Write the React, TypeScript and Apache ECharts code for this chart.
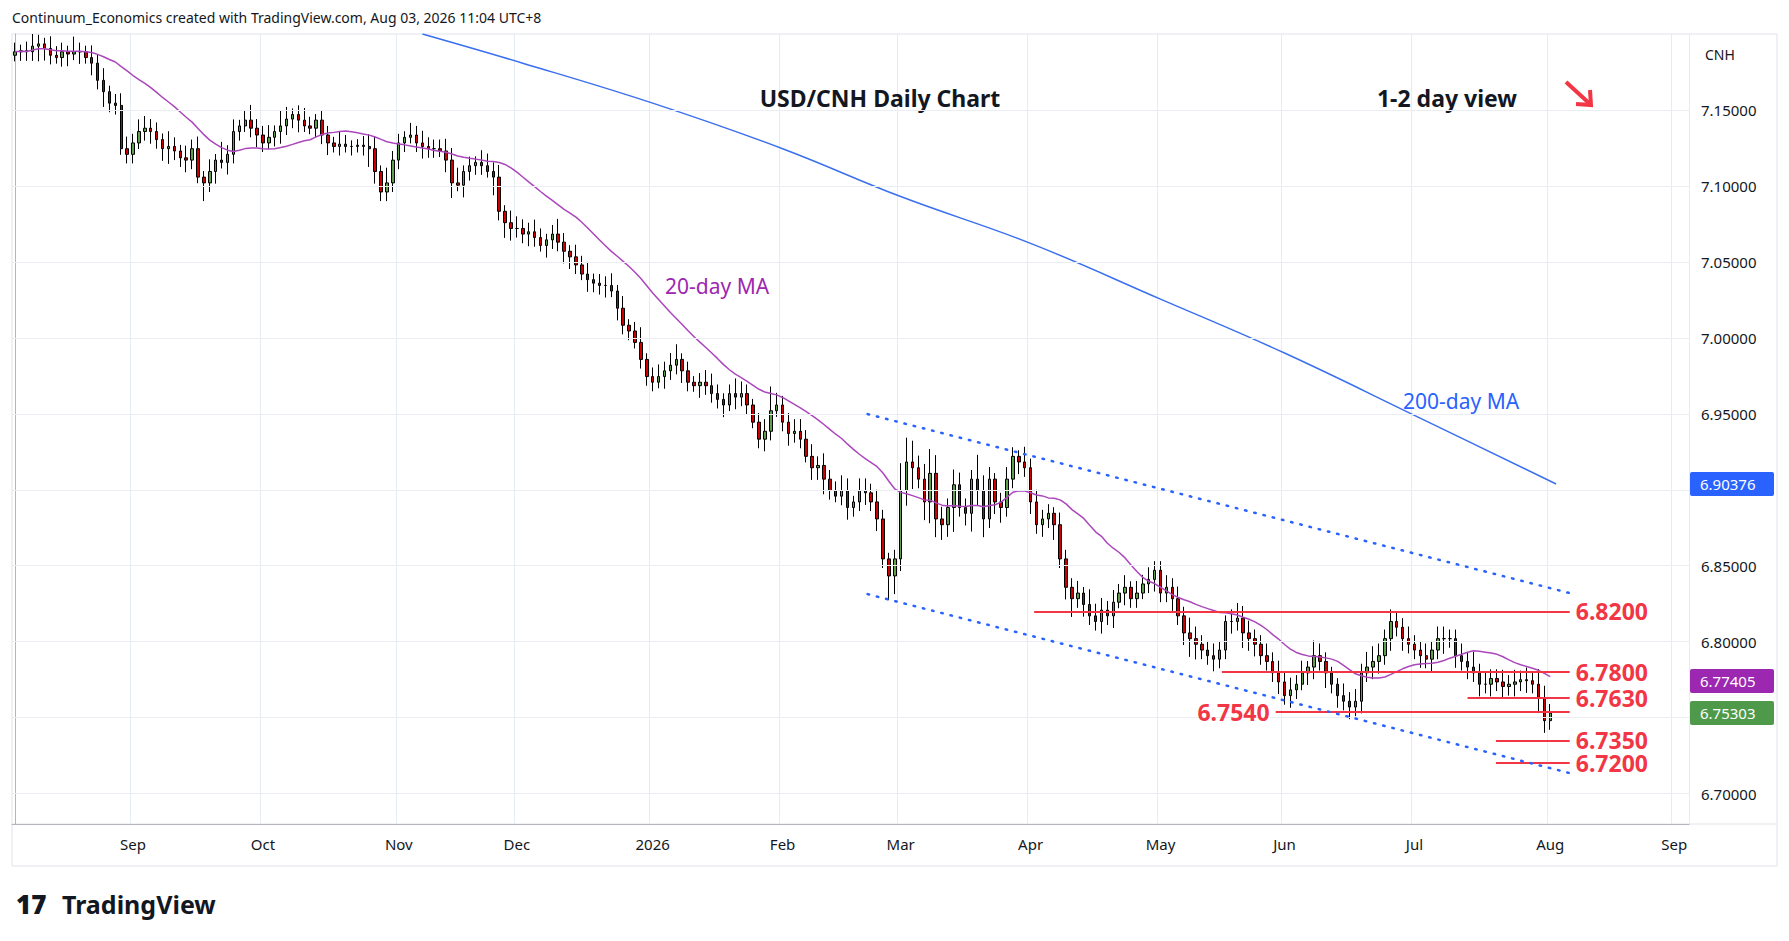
import React, { useEffect, useRef } from 'react';
import * as echarts from 'echarts';

// daily closes by month (weekdays), Aug 2025 .. Aug 3 2026
const closeAug25 = [7.1883, 7.189, 7.1883, 7.192, 7.1935, 7.1905, 7.186, 7.1845, 7.1883, 7.1868, 7.1883, 7.1883, 7.1845, 7.1808, 7.1695, 7.162, 7.1545, 7.153, 7.1245, 7.1208];
const closeSep = [7.1283, 7.1358, 7.138, 7.1358, 7.1305, 7.1245, 7.126, 7.123, 7.1185, 7.117, 7.1245, 7.1058, 7.102, 7.1095, 7.117, 7.1155, 7.1208, 7.1358, 7.1395, 7.1433, 7.138, 7.1335];
const closeOct = [7.1283, 7.132, 7.1358, 7.1395, 7.144, 7.147, 7.1433, 7.1395, 7.138, 7.1433, 7.1335, 7.1283, 7.126, 7.1275, 7.126, 7.126, 7.1268, 7.126, 7.1245, 7.1095, 7.096, 7.102, 7.117];
const closeNov = [7.1283, 7.132, 7.1335, 7.1283, 7.126, 7.1245, 7.1245, 7.123, 7.117, 7.102, 7.1005, 7.1095, 7.1133, 7.1155, 7.1133, 7.1095, 7.1058, 7.0833, 7.0758, 7.072];
const closeDec = [7.072, 7.0683, 7.0698, 7.066, 7.0608, 7.0645, 7.0683, 7.063, 7.057, 7.0533, 7.048, 7.042, 7.0383, 7.036, 7.0345, 7.0345, 7.0308, 7.0195, 7.0083, 7.0045, 6.997, 6.9858, 6.9745];
const closeJan = [6.9708, 6.9745, 6.9783, 6.982, 6.9858, 6.9783, 6.9708, 6.9685, 6.9708, 6.9685, 6.9633, 6.9595, 6.9558, 6.9633, 6.961, 6.9633, 6.9558, 6.9445, 6.9333, 6.9385, 6.952, 6.9558];
const closeFeb = [6.9445, 6.937, 6.9385, 6.9333, 6.922, 6.9145, 6.916, 6.907, 6.8995, 6.8958, 6.8995, 6.8883, 6.892, 6.8995, 6.898, 6.892, 6.8808, 6.8545, 6.8433, 6.8545];
const closeMar = [6.8995, 6.9183, 6.9145, 6.907, 6.892, 6.9108, 6.8808, 6.877, 6.8883, 6.9033, 6.8883, 6.8845, 6.907, 6.8995, 6.8808, 6.907, 6.892, 6.8883, 6.907, 6.922, 6.9183, 6.9145];
const closeApr = [6.892, 6.877, 6.8808, 6.8845, 6.877, 6.8545, 6.8358, 6.8283, 6.832, 6.8245, 6.817, 6.8133, 6.8208, 6.817, 6.826, 6.832, 6.8358, 6.8283, 6.832, 6.838, 6.841, 6.847];
const closeMay = [6.832, 6.8358, 6.8283, 6.817, 6.8058, 6.802, 6.7983, 6.7945, 6.7908, 6.7885, 6.7945, 6.8133, 6.8133, 6.8155, 6.8058, 6.802, 6.7983, 6.7908, 6.787, 6.7795, 6.7735];
const closeJun = [6.7645, 6.7683, 6.772, 6.7795, 6.7833, 6.7908, 6.787, 6.7795, 6.772, 6.7645, 6.7608, 6.757, 6.7608, 6.7795, 6.7833, 6.787, 6.7908, 6.802, 6.8133, 6.8095, 6.802, 6.7983];
const closeJul = [6.7945, 6.7908, 6.7885, 6.7945, 6.802, 6.802, 6.802, 6.7908, 6.787, 6.7833, 6.7795, 6.772, 6.772, 6.7758, 6.7735, 6.7705, 6.772, 6.7735, 6.775, 6.7743, 6.772, 6.763, 6.748];
const closeAug26 = [6.753];
const firstOpen = 7.186;

// wick lengths in units of 0.002, one digit per day
const upperWicks = [
  '32343243325324342344', '3443325324342426342353', '34254234323324322344253', '32434333445232443424',
  '43343235324342334242352', '3434523234432354323484', '33443434335424434323', '9874586435433854234325',
  '3433243342544343424343', '343435433432454433434', '3434254322434355434334', '33434433435343343434354', '3',
].join('');
const lowerWicks = [
  '23335432342424353323', '3234345334326342433234', '32343342233423232364333', '33234332452433326354',
  '33432433443243342433233', '3243343243334243323432', '34332445323433434386', '4573676548346563453343',
  '4343534634334342433234', '334346533433435443334', '3432443534343434434343', '34343534343434343434354', '3',
].join('');

// 200-day MA, [bar index, value]
const ma200Points = [[69, 7.2], [86, 7.1808], [108, 7.1545], [130, 7.1245], [150, 7.093], [172, 7.0622], [194, 7.0255], [215, 6.99], [237, 6.949], [261, 6.9038]];

// levels: [value, from index, to index, label side]
const levels: [number, number, number, string][] = [
  [6.82, 172.6, 263.3, 'end'], [6.78, 204.4, 263.3, 'end'], [6.763, 246, 263.3, 'end'],
  [6.754, 213.5, 263.3, 'start'], [6.735, 250.8, 263.3, 'end'], [6.72, 250.8, 263.3, 'end'],
];
const channelUpper = [[144.4, 6.9498], [263.3, 6.832]];
const channelLower = [[144.4, 6.8313], [263.3, 6.7135]];
const gridValues = [6.7, 6.75, 6.8, 6.85, 6.9, 6.95, 7.0, 7.05, 7.1, 7.15];
const hiddenTicks = ['6.90000', '6.75000'];
const priceTags = [
  { v: 6.90376, text: '6.90376', color: '#2962ff' },
  { v: 6.77405, text: '6.77405', color: '#9c27b0' },
  { v: 6.75303, text: '6.75303', color: '#4f9a4a' },
];
const monthNames = ['Jan', 'Feb', 'Mar', 'Apr', 'May', 'Jun', 'Jul', 'Aug', 'Sep', 'Oct', 'Nov', 'Dec'];

const closes = [
  ...closeAug25, ...closeSep, ...closeOct, ...closeNov, ...closeDec, ...closeJan,
  ...closeFeb, ...closeMar, ...closeApr, ...closeMay, ...closeJun, ...closeJul, ...closeAug26,
];

const TOTAL = 284;
const dates: string[] = [];
const labelMap: Record<number, string> = {};
{
  const d = new Date(Date.UTC(2025, 7, 4));
  let lastMonth = 7;
  while (dates.length < TOTAL) {
    const wd = d.getUTCDay();
    if (wd !== 0 && wd !== 6) {
      const m = d.getUTCMonth();
      if (m !== lastMonth) {
        labelMap[dates.length] = m === 0 ? String(d.getUTCFullYear()) : monthNames[m];
        lastMonth = m;
      }
      dates.push(d.toISOString().slice(0, 10));
    }
    d.setUTCDate(d.getUTCDate() + 1);
  }
}

const FONT = '"Noto Sans", Roboto, sans-serif';
const RED = '#f23645';

const App: React.FC = () => {
  const ref = useRef<HTMLDivElement | null>(null);

  useEffect(() => {
    document.body.style.margin = '0';
    if (!ref.current) return;
    const chart = echarts.init(ref.current, undefined, { renderer: 'svg' });

    const candles = closes.map((c, i) => {
      const o = i === 0 ? firstOpen : closes[i - 1];
      const hi = Math.max(o, c) + Number(upperWicks[i]) * 0.002;
      const lo = Math.min(o, c) - Number(lowerWicks[i]) * 0.002;
      return [o, c, lo, hi];
    });
    const ma20 = closes.map((_, i) => {
      const s = closes.slice(Math.max(0, i - 19), i + 1);
      return s.reduce((a, b) => a + b, 0) / s.length;
    });

    const base: any = {
      animation: false,
      backgroundColor: '#ffffff',
      textStyle: { fontFamily: FONT },
      grid: { left: 12, right: 100, top: 34, bottom: 117 },
      xAxis: [
        {
          type: 'category',
          data: dates,
          boundaryGap: true,
          axisLine: { show: true, lineStyle: { color: '#b2b5be' } },
          axisTick: { show: false },
          axisLabel: {
            interval: (i: number) => labelMap[i] !== undefined,
            formatter: (_: string, i: number) => labelMap[i] || '',
            color: '#131722',
            fontSize: 15,
            fontFamily: FONT,
            margin: 12,
          },
          splitLine: { show: true, interval: (i: number) => labelMap[i] !== undefined, lineStyle: { color: '#e6ecf2' } },
        },
        { type: 'value', min: -0.5, max: TOTAL - 0.5, show: false },
      ],
      yAxis: {
        type: 'value',
        position: 'right',
        min: 6.68,
        max: 7.2,
        interval: 0.01,
        axisLine: { show: true, lineStyle: { color: '#b2b5be' } },
        axisTick: { show: false },
        splitLine: { show: false },
        axisLabel: {
          color: '#131722',
          fontSize: 15,
          fontFamily: FONT,
          margin: 12,
          formatter: (v: number) => {
            const s = v.toFixed(5);
            return Math.abs(v * 20 - Math.round(v * 20)) < 1e-6 && v < 7.19 && !hiddenTicks.includes(s) ? s : '';
          },
        },
      },
      series: [
        {
          type: 'candlestick',
          data: candles,
          barMaxWidth: 6,
          itemStyle: { color: '#5f9e4a', color0: '#cc0000', borderColor: '#000000', borderColor0: '#000000', borderWidth: 1 },
          markLine: {
            silent: true,
            symbol: 'none',
            label: { show: false },
            lineStyle: { color: '#eaeef3', type: 'solid', width: 1 },
            data: gridValues.map((v) => ({ yAxis: v })),
          },
          z: 3,
        },
        {
          type: 'line',
          data: ma20,
          showSymbol: false,
          lineStyle: { color: '#ab47bc', width: 1.5 },
          z: 4,
        },
        {
          type: 'line',
          xAxisIndex: 1,
          data: ma200Points,
          smooth: 0.4,
          showSymbol: false,
          lineStyle: { color: '#3a6ff0', width: 1.5 },
          z: 4,
        },
        ...[channelUpper, channelLower].map((pts) => ({
          type: 'line',
          xAxisIndex: 1,
          data: pts,
          showSymbol: false,
          lineStyle: { color: '#2962ff', width: 2.5, type: [1.5, 8], cap: 'round' },
          z: 5,
        })),
        {
          type: 'line',
          xAxisIndex: 1,
          data: [],
          markLine: {
            silent: true,
            symbol: 'none',
            data: levels.map(([v, a, b, side]) => [
              {
                coord: [a, v],
                lineStyle: { color: RED, width: 2, type: 'solid' },
                label: {
                  show: true,
                  position: side === 'end' ? 'end' : 'start',
                  formatter: v.toFixed(4),
                  color: RED,
                  fontSize: 23,
                  lineHeight: 22,
                  fontWeight: 'bold',
                  fontFamily: FONT,
                  distance: 6,
                },
              },
              { coord: [b, v] },
            ]),
          },
          z: 6,
        },
      ],
    };
    chart.setOption(base);

    const tags = priceTags.flatMap((t) => {
      const y = chart.convertToPixel({ yAxisIndex: 0 }, t.v) as number;
      return [
        { type: 'rect', z: 100, shape: { x: 1690, y: y - 12, width: 84, height: 24, r: 2 }, style: { fill: t.color } },
        { type: 'text', z: 101, x: 1700, y, style: { text: t.text, fill: '#ffffff', font: `15px ${FONT}`, textVerticalAlign: 'middle' } },
      ];
    });

    chart.setOption({
      graphic: [
        { type: 'text', left: 12, top: 10, style: { text: 'Continuum_Economics created with TradingView.com, Aug 03, 2026 11:04 UTC+8', fill: '#131722', font: `14px ${FONT}` } },
        { type: 'text', x: 880, y: 98, style: { text: 'USD/CNH Daily Chart', fill: '#131722', font: `bold 23px ${FONT}`, textAlign: 'center', textVerticalAlign: 'middle' } },
        { type: 'text', x: 1447, y: 98, style: { text: '1-2 day view', fill: '#131722', font: `bold 23px ${FONT}`, textAlign: 'center', textVerticalAlign: 'middle' } },
        { type: 'line', shape: { x1: 1566, y1: 82, x2: 1590, y2: 104 }, style: { stroke: RED, lineWidth: 4 } },
        { type: 'polyline', shape: { points: [[1576, 104], [1591, 105], [1590, 90]] }, style: { stroke: RED, lineWidth: 4, fill: 'none' } },
        { type: 'text', x: 665, y: 286, style: { text: '20-day MA', fill: '#9c27b0', font: `21px ${FONT}`, textVerticalAlign: 'middle' } },
        { type: 'text', x: 1403, y: 401, style: { text: '200-day MA', fill: '#2962ff', font: `21px ${FONT}`, textVerticalAlign: 'middle' } },
        { type: 'text', x: 1705, y: 54, style: { text: 'CNH', fill: '#131722', font: `14px ${FONT}`, textVerticalAlign: 'middle' } },
        { type: 'rect', shape: { x: 12, y: 34, width: 1765, height: 832 }, style: { fill: 'none', stroke: '#e0e3eb', lineWidth: 1 } },
        { type: 'line', shape: { x1: 12, y1: 824, x2: 1777, y2: 824 }, style: { stroke: '#e0e3eb', lineWidth: 1 } },
        { type: 'text', x: 16, y: 904, style: { text: '17', fill: '#131722', font: `900 26px ${FONT}`, textVerticalAlign: 'middle' } },
        { type: 'text', x: 62, y: 904, style: { text: 'TradingView', fill: '#131722', font: `bold 25px ${FONT}`, textVerticalAlign: 'middle' } },
        ...tags,
      ],
    });

    return () => chart.dispose();
  }, []);

  return <div ref={ref} style={{ width: 1789, height: 941 }} />;
};

export default App;
